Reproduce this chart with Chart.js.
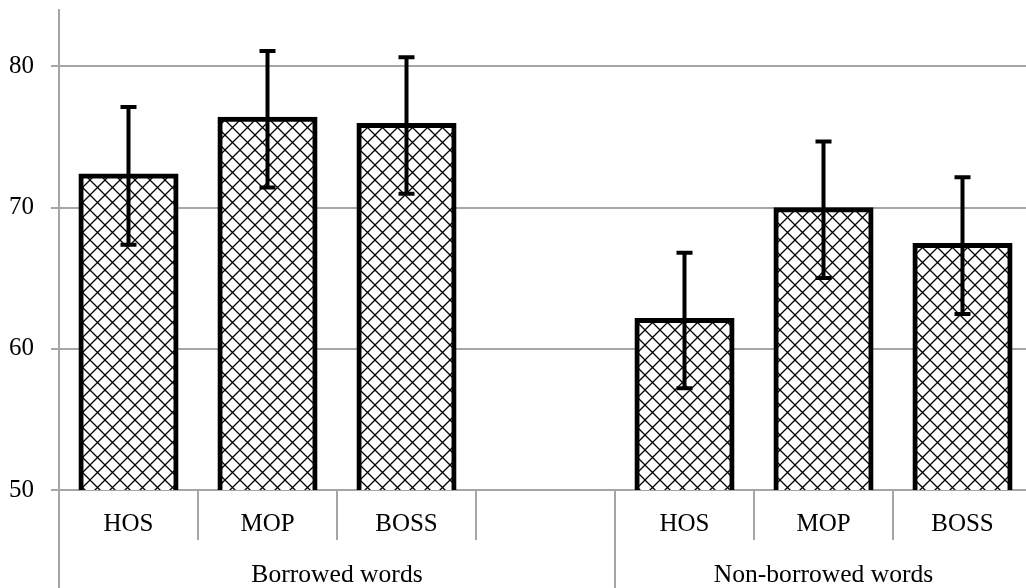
<!DOCTYPE html>
<html><head><meta charset="utf-8">
<script src="https://cdn.jsdelivr.net/npm/chart.js@4/dist/chart.umd.min.js"></script>
<style>
html,body{margin:0;padding:0;overflow:hidden;background:#fff;width:1026px;height:588px}
#wrap{position:absolute;left:0;top:0;width:1032px;height:588px}
</style>
</head><body><div id="wrap"><canvas id="c" width="1032" height="588"></canvas></div>
<script>
// ---- data ----
const categories = ['HOS','MOP','BOSS','','HOS','MOP','BOSS'];
const groups = ['Borrowed words','Borrowed words','Borrowed words','Borrowed words',
                'Non-borrowed words','Non-borrowed words','Non-borrowed words'];
const means  = [72.25, 76.26, 75.82, null, 62.0, 69.85, 67.31];
const errors = [4.88, 4.84, 4.84, null, 4.8, 4.83, 4.85];
const yTicks = [50, 60, 70, 80];
const yMin = 50, yMax = 84;

// ---- styles ----
const FONT = "'Liberation Serif','Times New Roman',serif";
const GRID = '#a6a6a6';

// group spans derived from group names
const spans = [];
groups.forEach((g,i)=>{
  const last = spans[spans.length-1];
  if (last && last.label === g) last.end = i; else spans.push({label:g,start:i,end:i});
});
const boundaries = new Set();
const centerLabel = {};
spans.forEach(s=>{
  boundaries.add(s.start-0.5); boundaries.add(s.end+0.5);
  centerLabel[(s.start+s.end)/2] = s.label;
});
const groupTickValues = [...new Set([...boundaries, ...Object.keys(centerLabel).map(Number)])].sort((a,b)=>a-b);

// crosshatch pattern
function makePattern(){
  const P = 15, c = document.createElement('canvas');
  c.width = P; c.height = P;
  const g = c.getContext('2d');
  g.fillStyle = '#fff'; g.fillRect(0,0,P,P);
  g.strokeStyle = '#000'; g.lineWidth = 1.3;
  g.beginPath();
  for (const k of [-P,0,P]) { g.moveTo(k-2,-2); g.lineTo(k+P+2,P+2); }
  for (const k of [0,P,2*P]) { g.moveTo(k+2,-2); g.lineTo(k-P-2,P+2); }
  g.stroke();
  return document.getElementById('c').getContext('2d').createPattern(c,'repeat');
}

const errorBars = {
  id:'errorBars',
  afterDatasetsDraw(chart){
    const ctx = chart.ctx, y = chart.scales.y, meta = chart.getDatasetMeta(0);
    ctx.save();
    ctx.strokeStyle = '#000'; ctx.lineWidth = 4; ctx.lineCap = 'butt';
    meta.data.forEach((bar,i)=>{
      const m = means[i], e = errors[i];
      if (m == null || e == null) return;
      const x = bar.x, yt = y.getPixelForValue(m+e), yb = y.getPixelForValue(m-e);
      ctx.beginPath();
      ctx.moveTo(x,yt); ctx.lineTo(x,yb);
      ctx.moveTo(x-8,yt); ctx.lineTo(x+8,yt);
      ctx.moveTo(x-8,yb); ctx.lineTo(x+8,yb);
      ctx.stroke();
    });
    ctx.restore();
  }
};

const noPad = s => { s.paddingTop = 0; s.paddingBottom = 0; s.paddingLeft = 0; s.paddingRight = 0; };

new Chart(document.getElementById('c'), {
  type:'bar',
  data:{
    labels: categories,
    datasets:[{
      data: means,
      backgroundColor: makePattern(),
      borderColor:'#000',
      borderWidth:{top:5,left:5,right:5,bottom:2},
      borderSkipped:false,
      inflateAmount:2.5,
      barPercentage:0.684,
      categoryPercentage:1
    }]
  },
  options:{
    responsive:false, animation:false, devicePixelRatio:1,
    layout:{padding:{top:10,left:0,right:0,bottom:0}},
    plugins:{legend:{display:false}, tooltip:{enabled:false}},
    scales:{
      y:{
        min:yMin, max:yMax,
        afterBuildTicks: s => { s.ticks = yTicks.map(v=>({value:v})); },
        grid:{color:GRID, lineWidth:2, tickLength:8, drawTicks:true},
        border:{display:true, color:GRID, width:2},
        ticks:{font:{family:FONT,size:25}, color:'#000', padding:17, crossAlign:'near'},
        afterFit: s => { s.width = 59; noPad(s); }
      },
      x:{
        type:'category', offset:true, weight:0,
        grid:{offset:true, drawOnChartArea:false, tickLength:50, color:GRID, lineWidth:2},
        border:{display:true, color:GRID, width:2},
        ticks:{font:{family:FONT,size:25}, color:'#000', padding:-31, maxRotation:0, minRotation:0, autoSkip:false},
        afterFit: s => { s.height = 50; noPad(s); }
      },
      x2:{
        type:'linear', axis:'x', position:'bottom', weight:1,
        offset:false,
        min:-0.5, max:categories.length-0.5,
        afterBuildTicks: s => { s.ticks = groupTickValues.map(v=>({value:v})); },
        grid:{offset:false, drawOnChartArea:false, tickLength:48, lineWidth:2,
              color: ctx => (ctx.tick && boundaries.has(ctx.tick.value)) ? GRID : 'rgba(0,0,0,0)'},
        border:{display:false},
        ticks:{font:{family:FONT,size:25.6}, color:'#000', padding:-28, maxRotation:0, minRotation:0, autoSkip:false,
               callback: v => centerLabel[v] || ''},
        afterFit: s => { s.height = 48; noPad(s); }
      }
    }
  },
  plugins:[errorBars]
});
</script>
</body></html>
